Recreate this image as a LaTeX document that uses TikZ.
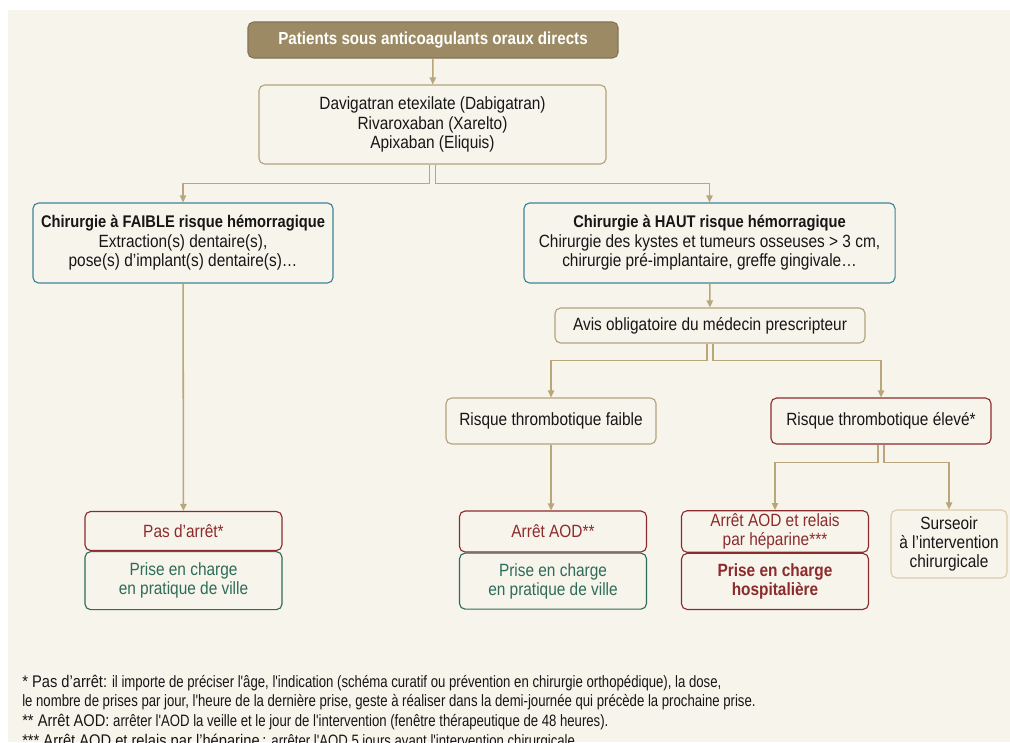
\documentclass[tikz,border=0pt]{standalone}
\usepackage{fontspec}
\setmainfont{Liberation Sans}[FakeStretch=0.87]
\newfontfamily\notefont{Liberation Sans}[FakeStretch=0.8]
\usetikzlibrary{arrows.meta,calc}

\definecolor{fond}{HTML}{F7F4EC}
\definecolor{trait}{HTML}{B9A77B}
\definecolor{entete}{HTML}{9C8A65}
\definecolor{bleu}{HTML}{3B8498}
\definecolor{rouge}{HTML}{8C2B2B}
\definecolor{vert}{HTML}{2E6B58}
\definecolor{sable}{HTML}{B3A27C}
\definecolor{sableclair}{HTML}{D9CDAA}
\definecolor{encre}{HTML}{161616}

\newcommand{\titreboite}[1]{{\fontsize{12}{13.8}\selectfont\bfseries #1}}

\begin{document}
\begin{tikzpicture}[x=0.025cm,y=-0.025cm,>={Triangle[length=5pt,width=4.5pt]},
  boite/.style={draw,rounded corners=4pt,fill=fond,align=center,line width=0.8pt,
    inner sep=2pt,text=encre,font=\fontsize{12.6}{13.8}\selectfont},
  fleche/.style={draw=trait,line width=1.1pt,->},
  note/.style={anchor=west,inner sep=0pt,text=encre,font=\notefont\fontsize{11.7}{13}\selectfont}]
  \clip (0,0) rectangle (1010,742);
  \fill[fond] (8,10) rectangle (1010,742);
  % --- haut : patients et molecules ---
  \node[boite,fill=entete,draw=entete!85!black,text=white,font=\fontsize{12.4}{13}\selectfont\bfseries,
    minimum width=9.25cm,minimum height=0.9cm] (patients) at (433,40) {Patients sous anticoagulants oraux directs};
  \node[boite,draw=sable,minimum width=8.675cm,minimum height=1.975cm] (medic) at (432.5,124.5)
    {Davigatran etexilate (Dabigatran)\\Rivaroxaban (Xarelto)\\Apixaban (Eliquis)};
  \draw[fleche] (patients) -- (medic);
  % --- risque hemorragique ---
  \node[boite,draw=bleu,minimum width=7.5cm,minimum height=2cm] (faible) at (183,243)
    {\titreboite{Chirurgie à FAIBLE risque hémorragique}\\Extraction(s) dentaire(s),\\pose(s) d'implant(s) dentaire(s)\dots};
  \node[boite,draw=bleu,minimum width=9.275cm,minimum height=2cm] (haut) at (709.5,243)
    {\titreboite{Chirurgie à HAUT risque hémorragique}\\Chirurgie des kystes et tumeurs osseuses > 3 cm,\\chirurgie pré-implantaire, greffe gingivale\dots};
  \draw[fleche] ($(medic.south)+(-3,0)$) -- ++(0,19) -| (faible.north);
  \draw[fleche] ($(medic.south)+(3,0)$) -- ++(0,19) -| (haut.north);
  \node[boite,draw=sable,minimum width=7.75cm,minimum height=0.875cm] (avis) at (710,325.5)
    {Avis obligatoire du médecin prescripteur};
  \draw[fleche] (haut) -- (avis);
  % --- risque thrombotique ---
  \node[boite,draw=sable,minimum width=5.25cm,minimum height=1.15cm] (rfaible) at (551,421)
    {Risque thrombotique faible};
  \node[boite,draw=rouge,minimum width=5.5cm,minimum height=1.15cm] (releve) at (881,421)
    {Risque thrombotique élevé*};
  \draw[fleche] ($(avis.south)+(-3,0)$) -- ++(0,17) -| (rfaible.north);
  \draw[fleche] ($(avis.south)+(3,0)$) -- ++(0,17) -| (releve.north);
  % --- conduites a tenir ---
  \node[boite,draw=rouge,text=rouge,minimum width=4.925cm,minimum height=0.975cm] (pasarret) at (183.5,531) {Pas d'arrêt*};
  \node[boite,draw=vert,text=vert,minimum width=4.925cm,minimum height=1.45cm,anchor=north] (villeA) at (pasarret.south)
    {Prise en charge\\en pratique de ville};
  \node[boite,draw=rouge,text=rouge,minimum width=4.675cm,minimum height=1.025cm] (arret) at (553,531.5) {Arrêt AOD**};
  \node[boite,draw=vert,text=vert,minimum width=4.675cm,minimum height=1.4cm,anchor=north] (villeB) at (arret.south)
    {Prise en charge\\en pratique de ville};
  \node[boite,draw=rouge,text=rouge,minimum width=4.675cm,minimum height=1.025cm] (relais) at (775,531.5)
    {Arrêt AOD et relais\\par héparine***};
  \node[boite,draw=rouge,text=rouge,font=\fontsize{12.6}{13.8}\selectfont\bfseries,minimum width=4.675cm,
    minimum height=1.4cm,anchor=north] (hospit) at (relais.south) {Prise en charge\\hospitalière};
  \node[boite,draw=sableclair,minimum width=2.9cm,minimum height=1.7cm] (surseoir) at (949,544)
    {Surseoir\\à l’intervention\\chirurgicale};
  \draw[fleche] (faible) -- (pasarret);
  \draw[fleche] (rfaible.south) -- (rfaible.south |- arret.north);
  \draw[fleche] ($(releve.south)+(-3,0)$) -- ++(0,18) -| (relais.north);
  \draw[fleche] ($(releve.south)+(3,0)$) -- ++(0,18) -| (surseoir.north);
  % --- notes ---
  \node[note] (note1) at (22,683) {{\rmfamily\fontsize{12}{13}\selectfont * Pas d'arrêt:} il importe de préciser l'âge, l'indication (schéma curatif ou prévention en chirurgie orthopédique), la dose,};
  \node[note] (note2) at (22,702) {le nombre de prises par jour, l'heure de la dernière prise, geste à réaliser dans la demi-journée qui précède la prochaine prise.};
  \node[note] (note3) at (22,722) {{\rmfamily\fontsize{12}{13}\selectfont ** Arrêt AOD:} arrêter l'AOD la veille et le jour de l'intervention (fenêtre thérapeutique de 48 heures).};
  \node[note] (note4) at (22,742) {{\rmfamily\fontsize{12}{13}\selectfont *** Arrêt AOD et relais par l'héparine\,:} arrêter l'AOD 5 jours avant l'intervention chirurgicale.};
\end{tikzpicture}
\end{document}
